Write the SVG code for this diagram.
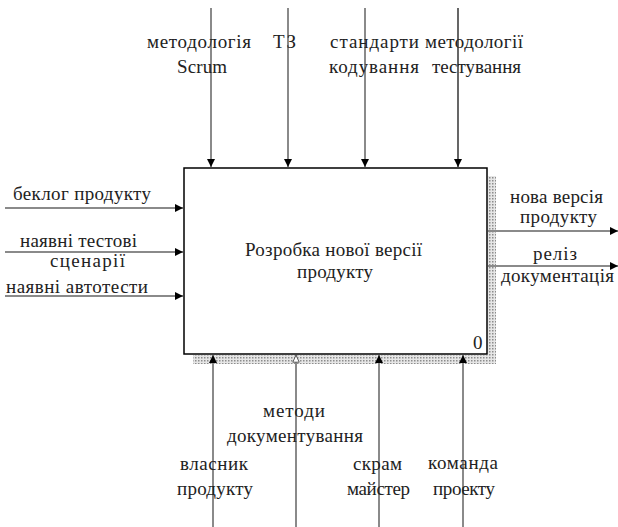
<svg xmlns="http://www.w3.org/2000/svg" width="618" height="527" viewBox="0 0 618 527">
<defs>
<style>
text{font-family:"Liberation Serif","DejaVu Serif",serif;font-size:19px;fill:#222}
.ln{stroke:#8a8a8a;stroke-width:2;fill:none}
.lb{stroke:#000;stroke-width:1.2;fill:none}
.box{fill:#fff;stroke:#000;stroke-width:1.5}
</style>
<pattern id="dots" width="3" height="3" patternUnits="userSpaceOnUse">
<rect width="3" height="3" fill="#e6e6e6"/>
<rect width="1.5" height="1.5" fill="#8c8c8c"/>
</pattern>
<marker id="ah" viewBox="0 0 10 10" refX="10" refY="5" markerWidth="8" markerHeight="8" markerUnits="userSpaceOnUse" orient="auto">
<path d="M0,0 L10,5 L0,10 Z" fill="#000"/>
</marker>
<marker id="aho" viewBox="0 0 10 10" refX="10" refY="5" markerWidth="9" markerHeight="8" markerUnits="userSpaceOnUse" orient="auto">
<path d="M1,1 L10,5 L1,9 Z" fill="#fff" stroke="#555" stroke-width="1.2"/>
</marker>
</defs>
<g id="node-0">
<rect x="193" y="355" width="303" height="9" fill="url(#dots)"/>
<rect x="488" y="176" width="8" height="188" fill="url(#dots)"/>
<rect class="box" x="184" y="168" width="303" height="186"/>
<text x="333.5" y="256" text-anchor="middle" textLength="177" lengthAdjust="spacing">Розробка нової версії</text>
<text x="335" y="278" text-anchor="middle" textLength="76" lengthAdjust="spacing">продукту</text>
<text x="473" y="349">0</text>
</g>
<g id="connectors">
<line class="ln" x1="211" y1="8" x2="211" y2="167" marker-end="url(#ah)"/>
<line class="ln" x1="288" y1="8" x2="288" y2="167" marker-end="url(#ah)"/>
<line class="ln" x1="365" y1="8" x2="365" y2="167" marker-end="url(#ah)"/>
<line class="lb" x1="458" y1="8" x2="458" y2="167" marker-end="url(#ah)"/>
<line class="ln" x1="5" y1="208" x2="183" y2="208" marker-end="url(#ah)"/>
<line class="ln" x1="5" y1="252" x2="183" y2="252" marker-end="url(#ah)"/>
<line class="ln" x1="5" y1="296" x2="183" y2="296" marker-end="url(#ah)"/>
<line class="ln" x1="488" y1="231" x2="618" y2="231" marker-end="url(#ah)"/>
<line class="ln" x1="488" y1="266" x2="618" y2="266" marker-end="url(#ah)"/>
<line class="ln" x1="213" y1="527" x2="213" y2="355" marker-end="url(#ah)"/>
<line class="ln" x1="296" y1="527" x2="296" y2="355" marker-end="url(#aho)"/>
<line class="ln" x1="379" y1="527" x2="379" y2="355" marker-end="url(#ah)"/>
<line class="ln" x1="463" y1="527" x2="463" y2="355" marker-end="url(#ah)"/>
</g>
<g id="labels">
<text x="147" y="48" textLength="104" lengthAdjust="spacing">методологія</text>
<text x="177" y="73" textLength="50" lengthAdjust="spacing">Scrum</text>
<text x="273" y="48" textLength="23" lengthAdjust="spacing">ТЗ</text>
<text x="330" y="48" textLength="89" lengthAdjust="spacing">стандарти</text>
<text x="329" y="73" textLength="90" lengthAdjust="spacing">кодування</text>
<text x="425" y="48" textLength="98" lengthAdjust="spacing">методології</text>
<text x="432" y="73" textLength="89" lengthAdjust="spacing">тестування</text>
<text x="13" y="200" textLength="138" lengthAdjust="spacing">беклог продукту</text>
<text x="20" y="247" textLength="117" lengthAdjust="spacing">наявні тестові</text>
<text x="50" y="267" textLength="75" lengthAdjust="spacing">сценарії</text>
<text x="6" y="293" textLength="142" lengthAdjust="spacing">наявні автотести</text>
<text x="510" y="203" textLength="93" lengthAdjust="spacing">нова версія</text>
<text x="520" y="223" textLength="77" lengthAdjust="spacing">продукту</text>
<text x="533" y="260" textLength="44" lengthAdjust="spacing">реліз</text>
<text x="501" y="282" textLength="113" lengthAdjust="spacing">документація</text>
<text x="263" y="417" textLength="62" lengthAdjust="spacing">методи</text>
<text x="227" y="442" textLength="136" lengthAdjust="spacing">документування</text>
<text x="180" y="470" textLength="68" lengthAdjust="spacing">власник</text>
<text x="177" y="495" textLength="76" lengthAdjust="spacing">продукту</text>
<text x="353" y="470" textLength="49" lengthAdjust="spacing">скрам</text>
<text x="347" y="495" textLength="63" lengthAdjust="spacing">майстер</text>
<text x="428" y="469" textLength="70" lengthAdjust="spacing">команда</text>
<text x="433" y="495" textLength="62" lengthAdjust="spacing">проекту</text>
</g>
</svg>
